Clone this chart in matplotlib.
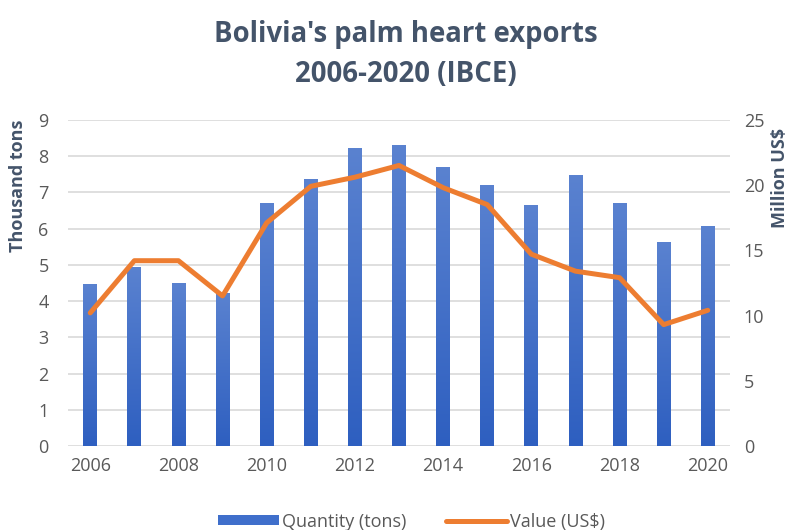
import matplotlib
matplotlib.use("Agg")
import matplotlib.pyplot as plt
from matplotlib.colors import LinearSegmentedColormap
import numpy as np

plt.rcParams['font.family'] = ['Open Sans', 'DejaVu Sans']

years = list(range(2006, 2021))
quantity = [4.47, 4.94, 4.49, 4.22, 6.70, 7.37, 8.22, 8.30, 7.69, 7.21, 6.64, 7.47, 6.70, 5.63, 6.08]
value = [10.2, 14.2, 14.2, 11.5, 17.1, 19.9, 20.6, 21.5, 19.8, 18.5, 14.7, 13.4, 12.9, 9.3, 10.4]

grey = '#595959'
slate = '#44546a'
blue = '#3f6fcb'
orange = '#ed7d31'

fig = plt.figure(figsize=(8.02, 5.30), dpi=100)
ax = fig.add_axes([0.085, 0.1585, 0.825, 0.6155])
ax2 = ax.twinx()

x = np.arange(len(years))
bars = ax.bar(x, quantity, width=0.31, color=blue, label='Quantity (tons)', zorder=2)

# vertical gradient inside each bar (dark at the base, lighter at the top)
grad_cmap = LinearSegmentedColormap.from_list('bar_grad', ['#2e5fc0', '#5a82d0'])
grad = np.linspace(0, 1, 256).reshape(-1, 1)
for b in bars:
    x0, w, h = b.get_x(), b.get_width(), b.get_height()
    im = ax.imshow(grad, cmap=grad_cmap, origin='lower', aspect='auto',
                   extent=(x0, x0 + w, 0, h), zorder=2.1)
    im.set_clip_path(b)

line, = ax2.plot(x, value, color=orange, lw=3.6, solid_joinstyle='round',
                 solid_capstyle='round', label='Value (US$)', zorder=3)

ax.set_xlim(-0.5, len(years) - 0.5)
ax.set_ylim(0, 9)
ax2.set_ylim(0, 25)
ax.set_yticks(range(0, 10))
ax2.set_yticks(range(0, 26, 5))
ax.set_xticks(x[::2])
ax.set_xticklabels([str(y) for y in years[::2]])
ax.grid(axis='y', color='#d9d9d9', lw=1.2, zorder=0)
ax.set_axisbelow(True)

for a in (ax, ax2):
    for s in a.spines.values():
        s.set_visible(False)
    a.tick_params(length=0, labelsize=13, labelcolor=grey)
ax.tick_params(axis='x', pad=8)
ax.tick_params(axis='y', pad=14)
ax2.tick_params(axis='y', pad=10)

# axis titles sit near the top of each value axis
fig.text(0.022, 0.774, 'Thousand tons', rotation=90, ha='center', va='top',
         fontsize=13, fontweight='bold', color=slate)
fig.text(0.973, 0.759, 'Million US$', rotation=90, ha='center', va='top',
         fontsize=13, fontweight='bold', color=slate)

fig.text(0.506, 0.897, "Bolivia's palm heart exports\n2006-2020 (IBCE)", ha='center', va='center',
         fontsize=19.8, fontweight='bold', color=slate, linespacing=1.5)

fig.legend([bars, line], ['Quantity (tons)', 'Value (US$)'], loc='center', bbox_to_anchor=(0.513, 0.016),
           ncol=2, frameon=False, fontsize=13, labelcolor=grey, handlelength=3.4,
           handleheight=0.45, handletextpad=0.15, columnspacing=2.2)

fig.savefig('out.png', dpi=100)
